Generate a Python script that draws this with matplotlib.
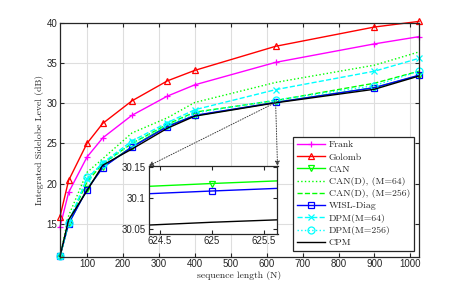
import numpy as np
import matplotlib
matplotlib.use('Agg')
import matplotlib.pyplot as plt

plt.rcParams.update({'font.size': 7, 'font.family': 'Liberation Sans',
                     'text.color': '0.15', 'axes.labelcolor': '0.15',
                     'xtick.color': '0.15', 'ytick.color': '0.15'})

#%% data
N = [25, 49, 100, 144, 225, 324, 400, 625, 900, 1024]

frank = [14.6, 18.9, 23.3, 25.7, 28.5, 30.9, 32.3, 35.1, 37.4, 38.3]
golomb = [15.9, 20.4, 25.0, 27.5, 30.3, 32.8, 34.1, 37.1, 39.5, 40.2]
can = [10.95, 15.05, 19.3, 22.05, 24.6, 27.2, 28.45, 30.123, 31.95, 33.45]
can_d64 = [10.95, 16.0, 21.4, 23.1, 26.3, 28.2, 30.1, 32.6, 34.75, 36.4]
can_d256 = [10.95, 15.2, 20.2, 22.5, 25.0, 27.4, 28.9, 30.35, 32.5, 34.0]
wisl = [10.95, 15.0, 19.25, 22.0, 24.55, 27.1, 28.5, 30.111, 31.95, 33.5]
dpm64 = [10.95, 15.2, 20.6, 22.6, 25.3, 27.6, 29.2, 31.7, 34.0, 35.6]
dpm256 = [10.95, 15.1, 20.8, 22.4, 25.0, 27.3, 28.8, 30.4, 32.2, 34.0]
cpm = [10.95, 15.5, 19.1, 22.3, 24.3, 26.9, 28.4, 30.061, 31.75, 33.4]

W, H = 463, 289
fig = plt.figure(figsize=(W/100, H/100), dpi=100)
ax = fig.add_axes([60/W, 1-256.7/H, (419-60)/W, (256.7-23)/H])

# (label, data, colour, linestyle, marker)
series = [
    ('Frank', frank, '#ff00ff', '-', '+'),
    ('Golomb', golomb, 'red', '-', '^'),
    ('CAN', can, '#00ff00', '-', 'v'),
    ('CAN(D), (M=64)', can_d64, '#00ff00', ':', None),
    ('CAN(D), (M=256)', can_d256, '#00ff00', '--', None),
    ('WISL-Diag', wisl, 'blue', '-', 's'),
    ('DPM(M=64)', dpm64, 'cyan', '--', 'x'),
    ('DPM(M=256)', dpm256, 'cyan', ':', 'o'),
    ('CPM', cpm, 'black', '-', None),
]

for lab, y, c, ls, m in series:
    ax.plot(N, y, color=c, ls=ls, marker=m, ms=5, mfc='none', mew=0.9,
            lw=1.0, label=lab, clip_on=False)

ax.set_xlim(25, 1024)
ax.set_ylim(10.9, 40)
ax.set_xticks(range(100, 1001, 100))
ax.set_yticks(range(15, 41, 5))
ax.grid(True, color='#dedede', lw=0.8)
ax.tick_params(direction='in', top=True, right=True, length=3, pad=2)
for s in ax.spines.values():
    s.set_linewidth(0.9)
    s.set_color('0.15')
ax.set_xlabel('sequence length (N)', family='cmr10', fontsize=7, labelpad=1)
ax.set_ylabel('Integrated Sidelobe Level (dB)', family='cmr10', fontsize=7, labelpad=2)

leg = ax.legend(loc='upper left', bbox_to_anchor=(292.7/W, 1-136.7/H),
                bbox_transform=fig.transFigure, borderaxespad=0,
                prop={'family': 'cmr10', 'size': 7}, fancybox=False,
                edgecolor='0.15', framealpha=1, labelspacing=0.34,
                handlelength=2.9, handletextpad=0.4, borderpad=0.4)
leg.get_frame().set_linewidth(0.9)
leg.set_zorder(10)

#%% zoomed inset around N=625
axins = fig.add_axes([148.5/W, 1-233.5/H, 129/W, 67.5/H])
for lab, y, c, ls, m in series:
    axins.plot(N, y, color=c, ls=ls, marker=m, ms=5, mfc='none', mew=0.9, lw=1.0)
axins.set_xlim(624.39, 625.63)
axins.set_ylim(30.043, 30.151)
axins.set_xticks([624.5, 625, 625.5])
axins.set_xticklabels(['624.5', '625', '625.5'])
axins.set_yticks([30.05, 30.1, 30.15])
axins.set_yticklabels(['30.05', '30.1', '30.15'])
axins.tick_params(direction='in', top=True, right=True, length=3, pad=2)
for s in axins.spines.values():
    s.set_linewidth(0.9)
    s.set_color('0.15')

arrow = dict(arrowstyle='-|>', linestyle=':', color='0.25', lw=0.7,
             mutation_scale=7, shrinkA=0, shrinkB=0)
for corner in [(0, 1), (1, 1)]:
    ax.annotate('', xy=corner, xycoords=axins.transAxes,
                xytext=(625, 30.1), textcoords='data', arrowprops=arrow)

fig.savefig('out.png', dpi=100)
